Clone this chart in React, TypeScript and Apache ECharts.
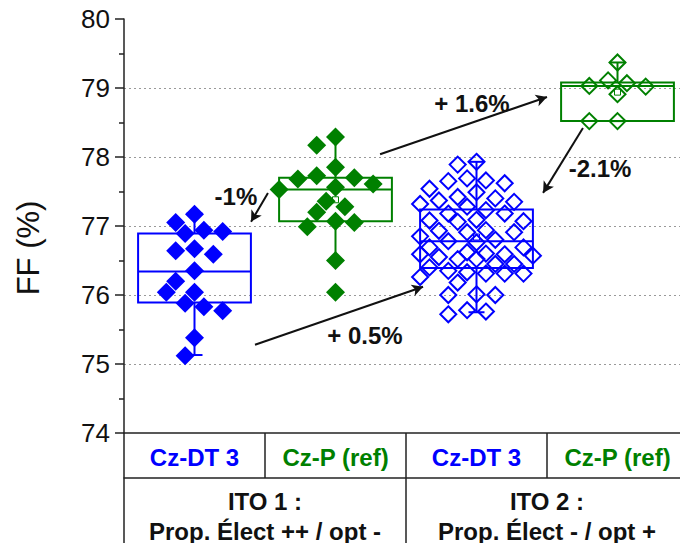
import React, { useEffect, useRef } from 'react';
import * as echarts from 'echarts';

// ---------- data ----------
const CATEGORIES = ['Cz-DT 3', 'Cz-P (ref)', 'Cz-DT 3', 'Cz-P (ref)'];
const GROUPS = ['ITO 1 :\nProp. Élect ++ / opt -', 'ITO 2 :\nProp. Élect - / opt +'];

const FF_ITO1_CZDT3 = [
  76.89, 76.94, 77.05, 77.17, 76.92, 76.64, 76.67, 76.59, 76.35,
  76.2, 76.04, 76.04, 75.83, 75.88, 75.77, 75.38, 75.12,
];
const FF_ITO1_CZP = [
  78.29, 78.17, 77.85, 77.73, 77.7, 77.68, 77.56, 77.53, 77.61,
  77.36, 77.28, 77.2, 77.05, 76.99, 77.07, 76.5, 76.04,
];
const FF_ITO2_CZDT3 = [
  77.93, 77.89, 77.69, 77.62, 77.66, 77.65, 77.54, 77.49, 77.37, 77.35,
  77.42, 77.4, 77.32, 77.28, 77.23, 77.18, 77.18, 77.07, 77.09, 77.08,
  77.06, 76.91, 76.93, 76.94, 76.91, 76.85, 76.76, 76.6, 76.59, 76.59,
  76.69, 76.62, 76.69, 76.57, 76.45, 76.52, 76.52, 76.45, 76.31, 76.4,
  76.31, 76.35, 76.31, 76.33, 76.26, 76.18, 76.0, 76.01, 76.0, 75.78,
  75.72, 75.76, 76.55, 76.78, 76.8,
];
const FF_ITO2_CZP = [79.37, 79.11, 79.07, 79.02, 79.03, 78.91, 78.52, 78.52];

// box statistics
const BOX_LOW = [75.13, 76.5, 75.75, 78.52];
const BOX_Q1 = [75.89, 77.07, 76.39, 78.52];
const BOX_MEDIAN = [76.34, 77.53, 76.78, 79.03];
const BOX_Q3 = [76.89, 77.7, 77.24, 79.08];
const BOX_HIGH = [77.18, 78.29, 77.93, 79.37];
const BOX_MEAN = [76.33, 77.38, 76.84, 78.94];

const Y_MIN = 74;
const Y_MAX = 80;
const Y_STEP = 1;

// annotations (in data coordinates: x = category position 0..4, y = FF)
const ANNOT_TEXT = ['-1%', '+ 0.5%', '+ 1.6%', '-2.1%'];
const ANNOT_TEXT_AT = [[0.794, 77.43], [1.709, 75.42], [2.468, 78.78], [3.376, 77.84]];
const ARROW_FROM = [[1.021, 77.48], [0.929, 75.28], [1.816, 78.04], [3.255, 78.42]];
const ARROW_TO = [[0.901, 77.06], [2.121, 76.12], [3.0, 78.87], [2.972, 77.48]];

// ---------- styling / layout ----------
const BLUE = '#0000ff';
const GREEN = '#008000';
const INK = '#111';
const AXIS = '#222';
const FONT = '"Liberation Sans", Arial, Helvetica, sans-serif';
const GRID = { left: 124, top: 19, width: 564, height: 414 };
const PX_PER_CAT = GRID.width / CATEGORIES.length;
const PX_PER_UNIT = GRID.height / (Y_MAX - Y_MIN);

// deterministic beeswarm spread of points around the category centre
function swarm(values: number[], minDist: number): number[] {
  const step = 9.4;
  const maxK = 6;
  const order = values.map((_, i) => i).sort((a, b) => values[b] - values[a]);
  const placed: { x: number; y: number }[] = [];
  const out = new Array(values.length).fill(0);
  const ks = [0];
  for (let k = 1; k <= maxK; k++) ks.push(-k, k);
  for (const idx of order) {
    const y = values[idx] * PX_PER_UNIT;
    let best = 0;
    let bestScore = -Infinity;
    for (const k of ks) {
      const x = k * step;
      let m = Infinity;
      for (const p of placed) m = Math.min(m, Math.abs(p.x - x) + Math.abs(p.y - y));
      if (m >= minDist) {
        best = x;
        break;
      }
      if (m > bestScore) {
        bestScore = m;
        best = x;
      }
    }
    placed.push({ x: best, y });
    out[idx] = best / PX_PER_CAT;
  }
  return out;
}

const POINT_GROUPS = [FF_ITO1_CZDT3, FF_ITO1_CZP, FF_ITO2_CZDT3, FF_ITO2_CZP];
const FILLED = [true, true, false, false];
const colorOf = (i: number) => (i % 2 === 0 ? BLUE : GREEN);

export default function App() {
  const ref = useRef<HTMLDivElement>(null);

  useEffect(() => {
    document.body.style.margin = '0';
    if (!ref.current) return;
    const chart = echarts.init(ref.current, null, { renderer: 'svg' });

    const boxData = CATEGORIES.map((_, i) => [
      i, BOX_LOW[i], BOX_Q1[i], BOX_MEDIAN[i], BOX_Q3[i], BOX_HIGH[i], BOX_MEAN[i],
    ]);

    const boxSeries: any = {
      type: 'custom',
      xAxisIndex: 0,
      yAxisIndex: 0,
      z: 2,
      silent: true,
      data: boxData,
      encode: { x: 0, y: [1, 2, 3, 4, 5, 6] },
      renderItem: (_params: any, api: any) => {
        const i = api.value(0) as number;
        const color = colorOf(i);
        const bw = api.size([1, 0])[0] * 0.8;
        const cx = api.coord([i, api.value(3)])[0];
        const yy = (k: number) => api.coord([i, api.value(k)])[1];
        const yLow = yy(1), yQ1 = yy(2), yMed = yy(3), yQ3 = yy(4), yHigh = yy(5), yMean = yy(6);
        const st = { stroke: color, lineWidth: 2, fill: 'none' };
        const cap = 8;
        return {
          type: 'group',
          children: [
            { type: 'rect', shape: { x: cx - bw / 2, y: yQ3, width: bw, height: yQ1 - yQ3 }, style: st },
            { type: 'line', shape: { x1: cx - bw / 2, y1: yMed, x2: cx + bw / 2, y2: yMed }, style: st },
            { type: 'line', shape: { x1: cx, y1: yQ3, x2: cx, y2: yHigh }, style: st },
            { type: 'line', shape: { x1: cx, y1: yQ1, x2: cx, y2: yLow }, style: st },
            { type: 'line', shape: { x1: cx - cap, y1: yHigh, x2: cx + cap, y2: yHigh }, style: st },
            { type: 'line', shape: { x1: cx - cap, y1: yLow, x2: cx + cap, y2: yLow }, style: st },
            { type: 'rect', shape: { x: cx - 3, y: yMean - 3, width: 6, height: 6 }, style: { stroke: color, lineWidth: 1, fill: 'none' } },
          ],
        };
      },
    };

    const pointSeries: any[] = POINT_GROUPS.map((vals, i) => {
      const off = swarm(vals, FILLED[i] ? 20 : 19);
      const color = colorOf(i);
      return {
        type: 'scatter',
        xAxisIndex: 2,
        yAxisIndex: 0,
        z: 3,
        silent: true,
        symbol: 'diamond',
        symbolSize: FILLED[i] ? 19 : 16,
        itemStyle: FILLED[i]
          ? { color, opacity: 1 }
          : { color: 'rgba(0,0,0,0)', borderColor: color, borderWidth: 2, opacity: 1 },
        data: vals.map((v, j) => [i + 0.5 + off[j], v]),
      };
    });

    pointSeries[0].markLine = {
      silent: true,
      symbol: ['none', 'arrow'],
      symbolSize: [9, 11],
      label: { show: false },
      lineStyle: { color: INK, width: 2, type: 'solid' },
      emphasis: { disabled: true },
      data: ARROW_FROM.map((f, k) => [{ coord: f }, { coord: ARROW_TO[k] }]),
    };
    pointSeries[0].markPoint = {
      silent: true,
      symbol: 'rect',
      symbolSize: 1,
      itemStyle: { color: 'rgba(0,0,0,0)' },
      label: {
        show: true,
        position: 'inside',
        formatter: '{b}',
        color: INK,
        fontSize: 24,
        fontWeight: 'bold',
        fontFamily: FONT,
      },
      data: ANNOT_TEXT.map((t, k) => ({ name: t, coord: ANNOT_TEXT_AT[k] })),
    };

    const rich: any = {};
    CATEGORIES.forEach((_, i) => {
      rich['c' + i] = { color: colorOf(i), fontSize: 24, fontWeight: 'bold', fontFamily: FONT };
    });

    chart.setOption({
      animation: false,
      backgroundColor: '#fff',
      grid: { ...GRID, outerBoundsMode: 'none', containLabel: false },
      xAxis: [
        {
          type: 'category',
          data: CATEGORIES,
          position: 'bottom',
          boundaryGap: true,
          axisLine: { show: true, lineStyle: { color: AXIS, width: 1.5 } },
          axisTick: { show: true, interval: 0, length: 45, lineStyle: { color: AXIS, width: 1.5 } },
          axisLabel: {
            interval: 0,
            margin: 12,
            formatter: (v: string, i: number) => `{c${i}|${v}}`,
            rich,
          },
          splitLine: { show: false },
        },
        {
          type: 'category',
          data: GROUPS,
          position: 'bottom',
          offset: 45,
          boundaryGap: true,
          axisLine: { show: true, lineStyle: { color: AXIS, width: 1.5 } },
          axisTick: { show: true, interval: 0, length: 90, lineStyle: { color: AXIS, width: 1.5 } },
          axisLabel: {
            interval: 0,
            margin: 8,
            color: INK,
            fontSize: 24,
            fontWeight: 'bold',
            fontFamily: FONT,
            lineHeight: 30,
          },
          splitLine: { show: false },
        },
        { type: 'value', min: 0, max: CATEGORIES.length, show: false },
      ],
      yAxis: {
        type: 'value',
        min: Y_MIN,
        max: Y_MAX,
        interval: Y_STEP,
        name: 'FF (%)',
        nameLocation: 'middle',
        nameGap: 80,
        nameTextStyle: { fontSize: 31, color: INK, fontFamily: FONT, padding: [0, 44, 0, 0] },
        axisLine: { show: true, lineStyle: { color: AXIS, width: 1.5 } },
        axisTick: { show: true, length: 9, lineStyle: { color: AXIS, width: 1.5 } },
        minorTick: { show: true, splitNumber: 2, length: 5, lineStyle: { color: AXIS, width: 1.5 } },
        axisLabel: { fontSize: 26, color: INK, fontFamily: FONT, margin: 14 },
        splitLine: {
          show: true,
          showMinLine: false,
          showMaxLine: false,
          lineStyle: { color: '#999', type: [2, 3], width: 1 },
        },
      },
      series: [boxSeries, ...pointSeries],
    });

    return () => chart.dispose();
  }, []);

  return <div ref={ref} style={{ width: 680, height: 543 }} />;
}
